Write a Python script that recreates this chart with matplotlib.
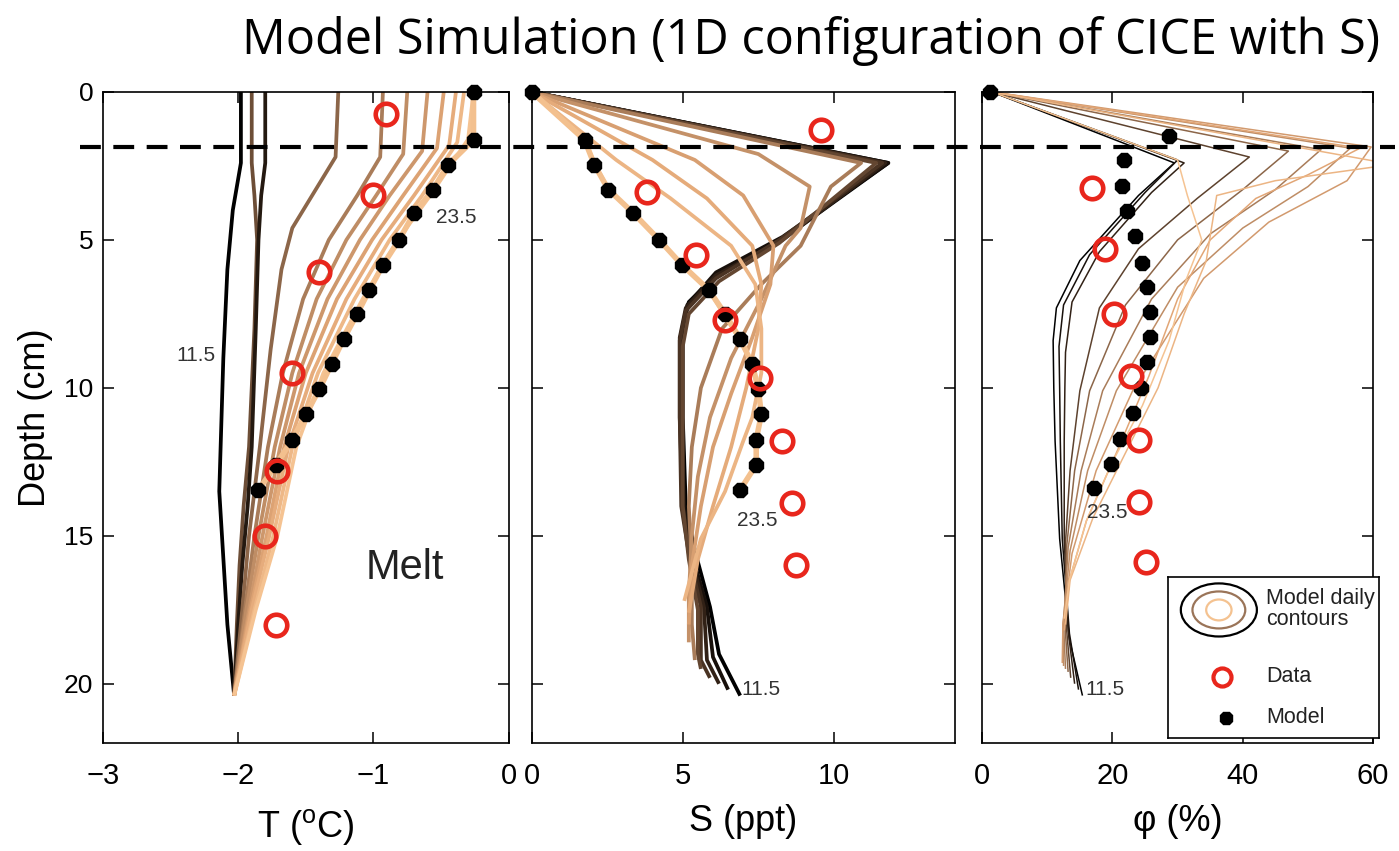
import matplotlib
matplotlib.use("Agg")
import matplotlib.pyplot as plt
from matplotlib.colors import LinearSegmentedColormap
from matplotlib.lines import Line2D
from matplotlib.patches import Ellipse
from matplotlib import transforms

NARROW = ['Liberation Sans Narrow', 'Liberation Sans', 'DejaVu Sans']
plt.rcParams['font.family'] = NARROW
plt.rcParams['mathtext.fontset'] = 'custom'
plt.rcParams['mathtext.rm'] = 'Liberation Sans'
plt.rcParams['axes.linewidth'] = 1.2

# ---------------- data ----------------
# panel a: temperature profiles, one list per daily contour (day 11.5 -> 23.5)
t_lines = [
    [-1.98, -1.98, -2.04, -2.08, -2.11, -2.13, -2.14, -2.12, -2.08, -2.03],
    [-1.90, -1.90, -1.88, -1.86, -1.88, -1.92, -1.96, -1.99, -2.01, -2.03],
    [-1.80, -1.80, -1.83, -1.85, -1.87, -1.90, -1.93, -1.97, -2.00, -2.03],
    [-1.26, -1.28, -1.44, -1.60, -1.68, -1.76, -1.84, -1.92, -1.97, -2.03],
    [-0.93, -0.95, -1.12, -1.33, -1.52, -1.67, -1.78, -1.88, -1.95, -2.03],
    [-0.75, -0.78, -0.98, -1.20, -1.42, -1.60, -1.73, -1.85, -1.94, -2.03],
    [-0.60, -0.64, -0.88, -1.10, -1.34, -1.55, -1.69, -1.82, -1.92, -2.03],
    [-0.48, -0.53, -0.78, -1.01, -1.27, -1.50, -1.66, -1.79, -1.91, -2.03],
    [-0.39, -0.44, -0.70, -0.94, -1.20, -1.45, -1.63, -1.77, -1.90, -2.03],
    [-0.33, -0.38, -0.64, -0.88, -1.14, -1.41, -1.60, -1.74, -1.88, -2.03],
    [-0.26, -0.30, -0.58, -0.82, -1.08, -1.37, -1.57, -1.71, -1.87, -2.03],
]
t_depths = [
    [0, 2.4, 4.0, 6.0, 9.0, 12.0, 13.5, 15.0, 18.0, 20.4],
    [0, 2.4, 3.5, 5.0, 8.0, 12.0, 14.0, 16.0, 18.0, 20.4],
    [0, 2.4, 3.5, 5.0, 8.0, 12.0, 14.0, 16.0, 18.0, 20.4],
    [0, 2.2, 3.4, 4.6, 6.0, 8.7, 12.0, 15.0, 17.5, 20.4],
    [0, 2.2, 3.5, 5.0, 7.0, 9.5, 12.0, 15.0, 17.5, 20.4],
    [0, 2.1, 3.5, 5.0, 7.0, 9.5, 12.0, 15.0, 17.5, 20.4],
    [0, 2.0, 3.5, 5.0, 7.0, 9.5, 12.0, 15.0, 17.5, 20.4],
    [0, 1.9, 3.5, 5.0, 7.0, 9.5, 12.0, 15.0, 17.5, 20.4],
    [0, 1.8, 3.5, 5.0, 7.0, 9.5, 12.0, 15.0, 17.5, 20.4],
    [0, 1.7, 3.5, 5.0, 7.0, 9.5, 12.0, 15.0, 17.5, 20.4],
    [0, 1.6, 3.5, 5.0, 7.0, 9.5, 12.0, 15.0, 17.5, 20.4],
]
# shade of each temperature contour (0 = day 11.5, 1 = day 23.5)
t_shades = [0.0, 0.35, 0.12, 0.45, 0.55, 0.63, 0.70, 0.77, 0.84, 0.92, 1.0]
t_data = [-0.91, -1.00, -1.40, -1.60, -1.71, -1.80, -1.72]
t_data_depth = [0.74, 3.5, 6.1, 9.5, 12.8, 15.0, 18.0]
t_model = [-0.26, -0.26, -0.45, -0.56, -0.70, -0.81, -0.93, -1.03, -1.12, -1.22,
           -1.31, -1.40, -1.50, -1.60, -1.72, -1.85]
model_depth = [0.0, 1.62, 2.47, 3.3, 4.1, 5.0, 5.85, 6.7, 7.5, 8.35, 9.2, 10.05,
               10.9, 11.75, 12.6, 13.45]

# panel b: bulk salinity profiles
s_lines = [
    [0, 11.8, 8.4, 6.2, 5.2, 5.0, 5.0, 5.1, 5.4, 5.9, 6.2, 6.9],
    [0, 11.8, 8.3, 6.1, 5.15, 4.95, 4.95, 5.05, 5.3, 5.8, 6.0, 6.5],
    [0, 11.7, 8.3, 6.1, 5.1, 4.9, 4.9, 5.0, 5.25, 5.7, 5.8, 6.2],
    [0, 11.6, 8.2, 6.1, 5.1, 4.9, 4.9, 4.95, 5.2, 5.6, 5.6, 5.9],
    [0, 11.4, 8.2, 6.2, 5.2, 5.0, 5.0, 5.0, 5.2, 5.5, 5.5, 5.6],
    [0, 10.9, 9.9, 8.9, 7.6, 6.3, 5.6, 5.3, 5.2, 5.3, 5.3, 5.4],
    [0, 7.5, 9.2, 8.9, 8.4, 7.6, 6.6, 5.9, 5.5, 5.3, 5.2, 5.2],
    [0, 5.4, 7.0, 8.0, 7.9, 7.3, 6.6, 6.0, 5.6, 5.3, 5.2],
    [0, 4.0, 5.8, 7.3, 7.6, 7.5, 7.1, 6.6, 6.0, 5.5, 5.2],
    [0, 2.8, 4.6, 6.6, 7.4, 7.6, 7.6, 7.3, 7.0, 6.4, 5.6, 5.05],
    [0, 1.75, 2.08, 2.54, 3.37, 4.22, 4.98, 5.87, 6.4, 6.9, 7.3, 7.5, 7.6, 7.43, 7.43, 6.9],
]
s_depths = [
    [0, 2.4, 4.9, 6.1, 7.1, 8.0, 11, 14, 15.5, 17.4, 19.0, 20.4],
    [0, 2.4, 4.9, 6.1, 7.2, 8.2, 11, 14, 15.6, 17.4, 19.1, 20.2],
    [0, 2.4, 5.0, 6.2, 7.3, 8.3, 11, 14, 15.6, 17.4, 19.2, 20.0],
    [0, 2.4, 5.0, 6.3, 7.4, 8.4, 11, 14, 15.6, 17.4, 19.2, 19.8],
    [0, 2.4, 5.1, 6.4, 7.5, 8.6, 11, 14, 15.8, 17.5, 19.0, 19.5],
    [0, 2.4, 3.2, 5.2, 6.5, 8.0, 10, 12, 14, 16, 18, 19.2],
    [0, 2.1, 3.2, 4.6, 5.2, 7.0, 9, 11, 13, 15, 17, 18.6],
    [0, 2.3, 3.5, 5.2, 6.5, 8.3, 10.2, 12, 14, 16, 18.0],
    [0, 2.3, 3.6, 5.2, 6.5, 8.0, 10, 12, 14, 15.8, 17.6],
    [0, 2.3, 3.6, 5.2, 6.5, 8.0, 9.5, 11, 11.8, 13.5, 15.1, 17.2],
    [0.0, 1.62, 2.4, 3.3, 4.1, 5.0, 5.85, 6.7, 7.6, 8.4, 9.2, 10.07, 10.9, 11.75, 12.6, 13.45],
]
s_shades = [0.0, 0.08, 0.16, 0.24, 0.32, 0.55, 0.66, 0.75, 0.83, 0.9, 1.0]
s_data = [9.57, 3.83, 5.45, 6.4, 7.56, 8.28, 8.6, 8.74]
s_data_depth = [1.28, 3.38, 5.5, 7.7, 9.66, 11.8, 13.9, 16.0]
s_model = [0, 1.75, 2.08, 2.54, 3.37, 4.22, 4.98, 5.87, 6.4, 6.9, 7.3, 7.5, 7.6,
           7.43, 7.43, 6.9]

# panel c: liquid fraction profiles
p_lines = [
    [1.5, 29.5, 24, 15, 11.4, 10.9, 11.0, 11.2, 11.9, 13.4, 15.4],
    [1.5, 30, 25, 16.5, 12.5, 11.8, 11.9, 12.0, 12.3, 13.4, 14.8],
    [1.5, 31, 26, 18, 13.8, 12.8, 12.7, 12.6, 12.6, 13.2, 14.2],
    [1.5, 41, 33, 24, 18, 15, 13.5, 12.8, 12.9, 13.6],
    [1.5, 47, 40, 30, 22, 16.5, 14.2, 13, 12.7, 13.2],
    [1.5, 52, 45, 35, 26, 18.5, 15.2, 13.2, 12.5, 12.8],
    [1.5, 56.5, 50, 40, 30, 20.6, 16.2, 13.5, 12.4, 12.5],
    [1.5, 59.7, 56, 44, 34, 23.1, 17.5, 13.8, 12.4, 12.3],
    [1.5, 58, 50, 42, 35, 30, 25.6, 21, 16, 13.4, 12.6],
    [1.5, 63, 45, 36, 34.4, 31, 27, 22, 17, 13.5, 12.8],
    [1.5, 30, 31.5, 33.7, 31.3, 28.7, 24.6, 20, 16, 13.4, 12.6],
]
p_depths = [
    [0, 2.4, 3.5, 5.7, 7.3, 8.4, 10, 11.8, 15.1, 18.5, 20.4],
    [0, 2.3, 3.4, 5.5, 7.2, 8.6, 10, 11.8, 15.1, 18.3, 20.2],
    [0, 2.4, 3.4, 5.4, 7.1, 8.8, 10, 11.8, 15.1, 18.2, 20.0],
    [0, 2.2, 3.6, 5.3, 7.3, 10.1, 12.8, 15.2, 18, 19.8],
    [0, 2.0, 3.3, 5.0, 7.2, 10.1, 12.8, 15.3, 18, 19.6],
    [0, 1.95, 3.3, 4.8, 7.0, 10.1, 12.8, 15.4, 18, 19.5],
    [0, 1.9, 3.2, 4.6, 6.6, 10.1, 12.8, 15.5, 18, 19.4],
    [0, 1.86, 3.0, 4.4, 6.3, 10.1, 12.8, 15.6, 18, 19.3],
    [0, 1.9, 2.8, 3.6, 5.0, 7.0, 9.6, 12, 14.5, 16.5, 18.2],
    [0, 2.45, 3.0, 3.5, 5.7, 7.5, 10, 12.2, 14.4, 16.5, 18],
    [0, 2.3, 3.5, 5, 6.35, 8.4, 10.6, 12.5, 14.5, 16.5, 17.8],
]
p_shades = [0.0, 0.08, 0.16, 0.3, 0.45, 0.55, 0.63, 0.72, 0.8, 0.9, 1.0]
p_data = [16.8, 18.8, 20.2, 22.9, 24.1, 24.0, 25.2]
p_data_depth = [3.25, 5.3, 7.5, 9.6, 11.75, 13.85, 15.9]
p_model = [1.2, 28.7, 21.8, 21.4, 22.3, 23.5, 24.6, 25.3, 25.8, 25.8, 25.3, 24.4,
           23.1, 21.2, 19.8, 17.1]
p_model_depth = [0.0, 1.49, 2.3, 3.18, 4.02, 4.86, 5.78, 6.59, 7.43, 8.28, 9.12,
                 10.0, 10.85, 11.73, 12.57, 13.4]

surface_layer = 1.85  # dashed line depth (cm)

# ---------------- plotting ----------------
cmap = LinearSegmentedColormap.from_list(
    "days", ["#000000", "#3e2a1c", "#7d5a40", "#b88862", "#e2a676", "#f5c392"])
RED = "#e8261c"

fig = plt.figure(figsize=(13.99, 8.51), dpi=100)
ax1 = fig.add_axes([0.0736, 0.127, 0.290, 0.765])
ax2 = fig.add_axes([0.380, 0.127, 0.3025, 0.765])
ax3 = fig.add_axes([0.702, 0.127, 0.2795, 0.765])


def draw_lines(ax, xs, ds, shades, lw):
    for i, (x, d, s) in enumerate(zip(xs, ds, shades)):
        ax.plot(x, d, color=cmap(s), lw=lw, solid_capstyle='butt',
                solid_joinstyle='round', zorder=2 + i * 0.01)


draw_lines(ax1, t_lines, t_depths, t_shades, 2.7)
draw_lines(ax2, s_lines, s_depths, s_shades, 2.7)
draw_lines(ax3, p_lines, p_depths, p_shades, 1.1)

ax1.plot(t_model, model_depth, color="#f3c08e", lw=4, zorder=3)
ax2.plot(s_model, model_depth, color="#f3c08e", lw=4, zorder=3)

for ax, xm, dm, xd, dd in [(ax1, t_model, model_depth, t_data, t_data_depth),
                           (ax2, s_model, model_depth, s_data, s_data_depth),
                           (ax3, p_model, p_model_depth, p_data, p_data_depth)]:
    ax.plot(xm, dm, ls='none', marker='8', ms=11.5, mfc='black', mec='black',
            zorder=5, clip_on=False)
    ax.plot(xd, dd, ls='none', marker='o', ms=15.5, mfc='none', mec=RED, mew=3.3,
            zorder=6)

ax1.set_xlim(-3, 0)
ax2.set_xlim(0, 14)
ax3.set_xlim(0, 60)
ax1.set_xticks([-3, -2, -1, 0])
ax2.set_xticks([0, 5, 10])
ax3.set_xticks([0, 20, 40, 60])

for ax in (ax1, ax2, ax3):
    ax.set_ylim(22, 0)
    ax.set_yticks([0, 5, 10, 15, 20])
    ax.tick_params(direction='in', top=True, right=True, length=8, width=1.1,
                   labelsize=21, pad=14)
    ax.tick_params(axis='y', pad=7)
for ax in (ax2, ax3):
    ax.tick_params(axis='y', labelleft=False)
for lab in ax1.get_yticklabels():
    lab.set_fontfamily(['Liberation Sans', 'DejaVu Sans'])
    lab.set_fontsize(19)

ax1.set_ylabel("Depth (cm)", fontsize=26, family=['Liberation Sans', 'DejaVu Sans'],
               labelpad=8)
ax1.set_xlabel(r"T ($^{\mathrm{o}}$C)", fontsize=26, labelpad=12)
ax2.set_xlabel("S (ppt)", fontsize=26, labelpad=10)
ax3.set_xlabel("\u03c6 (%)", fontsize=26, labelpad=10)

# curve annotations
ax1.text(-2.17, 8.9, "11.5", fontsize=15, color="#333333", ha='right', va='center')
ax1.text(-0.54, 4.25, "23.5", fontsize=15, color="#333333", ha='left', va='center')
ax1.text(-0.77, 16.1, "Melt", fontsize=30, color="#222222", ha='center', va='center')
ax2.text(7.45, 14.5, "23.5", fontsize=15, color="#333333", ha='center', va='center')
ax2.text(7.6, 20.2, "11.5", fontsize=15, color="#333333", ha='center', va='center')
ax3.text(19.2, 14.2, "23.5", fontsize=15, color="#333333", ha='center', va='center')
ax3.text(18.8, 20.2, "11.5", fontsize=15, color="#333333", ha='center', va='center')

# dashed surface-layer line spanning all panels
blend = transforms.blended_transform_factory(fig.transFigure, ax1.transData)
fig.add_artist(Line2D([0.057, 0.997], [surface_layer, surface_layer], transform=blend,
                      color='black', lw=3, dashes=(5, 3), zorder=10))

# legend box
leg = fig.add_axes([0.835, 0.133, 0.151, 0.189])
leg.set_xlim(0, 1)
leg.set_ylim(0, 1)
leg.set_xticks([])
leg.set_yticks([])
leg.set_zorder(20)
for w, h, c in [(0.36, 0.33, "black"), (0.25, 0.23, "#9a7458"), (0.12, 0.13, "#f4c290")]:
    leg.add_patch(Ellipse((0.24, 0.795), w, h, fill=False, ec=c, lw=1.6))
leg.text(0.465, 0.80, "Model daily\ncontours", fontsize=15.5, va='center', ha='left',
         linespacing=1.0, color="#222222")
leg.plot([0.257], [0.38], marker='o', ms=13, mfc='none', mec=RED, mew=3)
leg.text(0.465, 0.38, "Data", fontsize=15.5, va='center', ha='left', color="#222222")
leg.plot([0.275], [0.125], marker='8', ms=10, color='black')
leg.text(0.465, 0.125, "Model", fontsize=15.5, va='center', ha='left', color="#222222")

fig.text(0.58, 0.952, "Model Simulation (1D configuration of CICE with S)",
         fontsize=35, family=['Open Sans', 'DejaVu Sans'], ha='center', va='center')

fig.savefig("out.png", dpi=100)
